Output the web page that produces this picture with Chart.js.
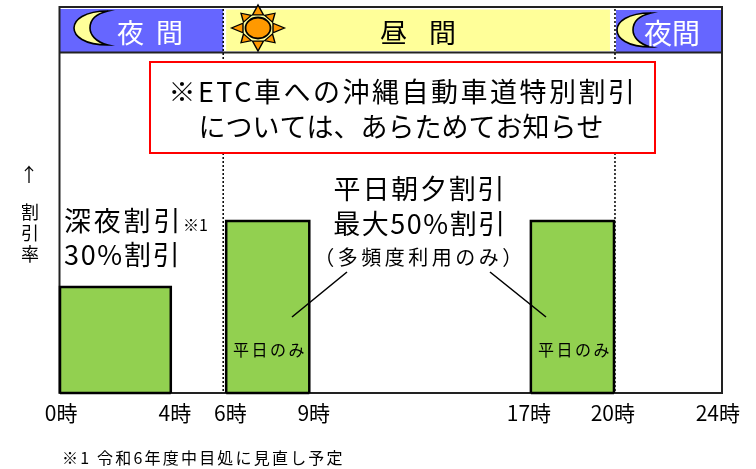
<!DOCTYPE html>
<html lang="ja">
<head>
<meta charset="utf-8">
<style>html,body{margin:0;padding:0;background:#fff}#wrap{position:relative;width:756px;height:469px}</style>
<script src="https://cdn.jsdelivr.net/npm/chart.js@4/dist/chart.umd.min.js"></script>
</head>
<body>
<div id="wrap"><canvas id="c" width="756" height="469"></canvas></div>
<script>
const periodStarts = [0, 6, 17];
const periodEnds = [4, 9, 20];
const discountRates = [30.8, 50, 50];
const hourTicks = [0, 4, 6, 9, 17, 20, 24];
const hourTickPlaces = [0.04, 4.15, 6.15, 9.16, 16.93, 19.96, 23.75];
const bandStarts = [0, 6, 20];
const bandEnds = [6, 20, 24];
const FONT = '"Noto Sans CJK JP","Noto Sans CJK SC",sans-serif';

function label(ctx, s, x, y, size, color, spacing, align) {
  ctx.save();
  ctx.font = size + 'px ' + FONT;
  ctx.fillStyle = color || '#000';
  ctx.textAlign = align || 'left';
  ctx.textBaseline = 'middle';
  ctx.letterSpacing = (spacing || 0) + 'px';
  ctx.fillText(s, x, y);
  ctx.restore();
}
function moon(ctx, dx, dy) {
  ctx.save();
  ctx.translate(dx, dy);
  ctx.beginPath();
  ctx.moveTo(108, 11);
  ctx.bezierCurveTo(84, 11, 74, 20, 74, 28);
  ctx.bezierCurveTo(74, 36, 84, 45, 108, 45);
  ctx.bezierCurveTo(95, 42, 90, 34, 90, 28);
  ctx.bezierCurveTo(90, 21, 95, 14, 108, 11);
  ctx.closePath();
  ctx.fillStyle = '#FFFF99';
  ctx.fill();
  ctx.lineWidth = 1.6;
  ctx.strokeStyle = '#000';
  ctx.stroke();
  ctx.restore();
}
function sun(ctx, cx, cy) {
  ctx.save();
  ctx.translate(cx, cy);
  ctx.strokeStyle = '#000';
  ctx.lineWidth = 1.4;
  ctx.save();
  ctx.scale(1, 0.87);
  for (let i = 0; i < 8; i++) {
    ctx.save();
    ctx.rotate(i * Math.PI / 4);
    const tip = i % 2 ? 24 : 26.5;
    ctx.beginPath();
    ctx.moveTo(-5.5, -15);
    ctx.lineTo(0, -tip);
    ctx.lineTo(5.5, -15);
    ctx.closePath();
    ctx.fillStyle = '#FF9900';
    ctx.fill();
    ctx.stroke();
    ctx.restore();
  }
  ctx.restore();
  ctx.beginPath();
  ctx.ellipse(0, 0, 12.5, 10.5, 0, 0, Math.PI * 2);
  ctx.fillStyle = '#FF9900';
  ctx.fill();
  ctx.lineWidth = 1.8;
  ctx.stroke();
  ctx.restore();
}

const backdrop = {
  id: 'backdrop',
  beforeDatasetsDraw(chart) {
    const { ctx, chartArea: a, scales: { x, y } } = chart;
    const headerY = y.getPixelForValue(99);
    ctx.save();
    ctx.fillStyle = '#6666FF';
    ctx.fillRect(a.left, a.top + 2, x.getPixelForValue(bandEnds[0]) - a.left - 3, headerY - a.top - 2);
    ctx.fillRect(x.getPixelForValue(bandStarts[2]) + 2, a.top + 3, a.right - x.getPixelForValue(bandStarts[2]) - 3, headerY - a.top - 3);
    ctx.fillStyle = '#FFFF99';
    ctx.fillRect(x.getPixelForValue(bandStarts[1]) - 0, a.top + 2.5, x.getPixelForValue(bandEnds[1]) - x.getPixelForValue(bandStarts[1]) - 4, headerY - a.top - 4);
    ctx.strokeStyle = '#222';
    ctx.lineWidth = 2;
    ctx.strokeRect(a.left - 0.5, a.top, a.right - a.left + 0.5, a.bottom - a.top);
    ctx.beginPath();
    ctx.moveTo(a.left, headerY);
    ctx.lineTo(a.right, headerY);
    ctx.stroke();
    ctx.setLineDash([2, 2]);
    ctx.lineWidth = 1.5;
    ctx.strokeStyle = '#000';
    [x.getPixelForValue(bandEnds[0]) - 3, x.getPixelForValue(bandStarts[2]) + 1].forEach(px => {
      ctx.beginPath();
      ctx.moveTo(px, a.top + 2);
      ctx.lineTo(px, a.bottom);
      ctx.stroke();
    });
    ctx.restore();
  },
  afterDatasetsDraw(chart) {
    const { ctx, scales: { x, y } } = chart;
    ctx.save();
    ctx.strokeStyle = '#000';
    ctx.lineWidth = 2.5;
    periodStarts.forEach((s, i) => {
      ctx.beginPath();
      ctx.moveTo(x.getPixelForValue(s), y.getPixelForValue(0));
      ctx.lineTo(x.getPixelForValue(periodEnds[i]), y.getPixelForValue(0));
      ctx.stroke();
    });
    ctx.restore();

    moon(ctx, 0, 0);
    moon(ctx, 543, 2);
    sun(ctx, 258, 28);
    label(ctx, '夜', 117, 33, 27, '#fff');
    label(ctx, '間', 156, 33, 27, '#fff');
    label(ctx, '昼', 380, 33, 27, '#000');
    label(ctx, '間', 429, 33, 27, '#000');
    label(ctx, '夜間', 644, 33, 28, '#fff');

    ctx.save();
    ctx.fillStyle = '#fff';
    ctx.strokeStyle = '#FF0000';
    ctx.lineWidth = 2;
    ctx.fillRect(150, 62, 505, 91);
    ctx.strokeRect(150, 62, 505, 91);
    ctx.restore();
    label(ctx, '※ETC車への沖縄自動車道特別割引', 403, 92, 27, '#000', 2.5, 'center');
    label(ctx, 'については、あらためてお知らせ', 401, 127, 27, '#000', 0, 'center');

    label(ctx, '深夜割引', 64, 221, 27, '#000', 2.8);
    label(ctx, '※1', 183, 225, 16, '#000');
    label(ctx, '30%割引', 64, 255, 27, '#000', 1.7);
    label(ctx, '平日朝夕割引', 420, 189, 27, '#000', 1.8, 'center');
    label(ctx, '最大50%割引', 420, 224, 27, '#000', 1.5, 'center');
    label(ctx, '（多頻度利用のみ）', 420, 257, 20, '#000', 3.5, 'center');

    ctx.save();
    ctx.strokeStyle = '#000';
    ctx.lineWidth = 1.6;
    ctx.beginPath();
    ctx.moveTo(347, 272); ctx.lineTo(292, 317);
    ctx.moveTo(490, 272); ctx.lineTo(546, 317);
    ctx.stroke();
    ctx.restore();

    label(ctx, '平日のみ', 233, 350, 16, '#000', 2.5);
    label(ctx, '平日のみ', 538, 350, 16, '#000', 2.5);

    label(ctx, '↑', 29, 175, 19, '#000', 0, 'center');
    label(ctx, '割', 30, 212, 18, '#000', 0, 'center');
    label(ctx, '引', 30, 233, 18, '#000', 0, 'center');
    label(ctx, '率', 30, 254, 18, '#000', 0, 'center');
    label(ctx, '※1 令和6年度中目処に見直し予定', 62, 458, 16, '#000', 2.2);
  }
};

new Chart(document.getElementById('c'), {
  type: 'line',
  data: {
    datasets: periodStarts.map((s, i) => ({
      label: s + '-' + periodEnds[i],
      data: [
        { x: s, y: 0 },
        { x: s, y: discountRates[i] },
        { x: periodEnds[i], y: discountRates[i] },
        { x: periodEnds[i], y: 0 }
      ],
      borderColor: '#000',
      borderWidth: 2.5,
      backgroundColor: '#92D050',
      fill: 'origin',
      pointRadius: 0,
      tension: 0,
      clip: false
    }))
  },
  options: {
    responsive: false,
    animation: false,
    layout: { padding: { left: 60, right: 34, top: 7, bottom: 0 } },
    plugins: { legend: { display: false }, tooltip: { enabled: false } },
    scales: {
      x: {
        type: 'linear',
        min: 0,
        max: 23.9,
        grid: { display: false },
        border: { display: false },
        afterBuildTicks(scale) {
          scale.ticks = hourTickPlaces.map((v) => ({ value: v }));
        },
        afterFit(scale) { scale.height = 76; },
        ticks: {
          autoSkip: false,
          maxRotation: 0,
          padding: -1,
          color: '#000',
          font: { family: FONT, size: 21 },
          callback(v) { return hourTicks[hourTickPlaces.indexOf(v)] + '時'; }
        }
      },
      y: {
        display: false,
        min: 0,
        max: 112.2
      }
    }
  },
  plugins: [backdrop]
});
</script>
</body>
</html>
